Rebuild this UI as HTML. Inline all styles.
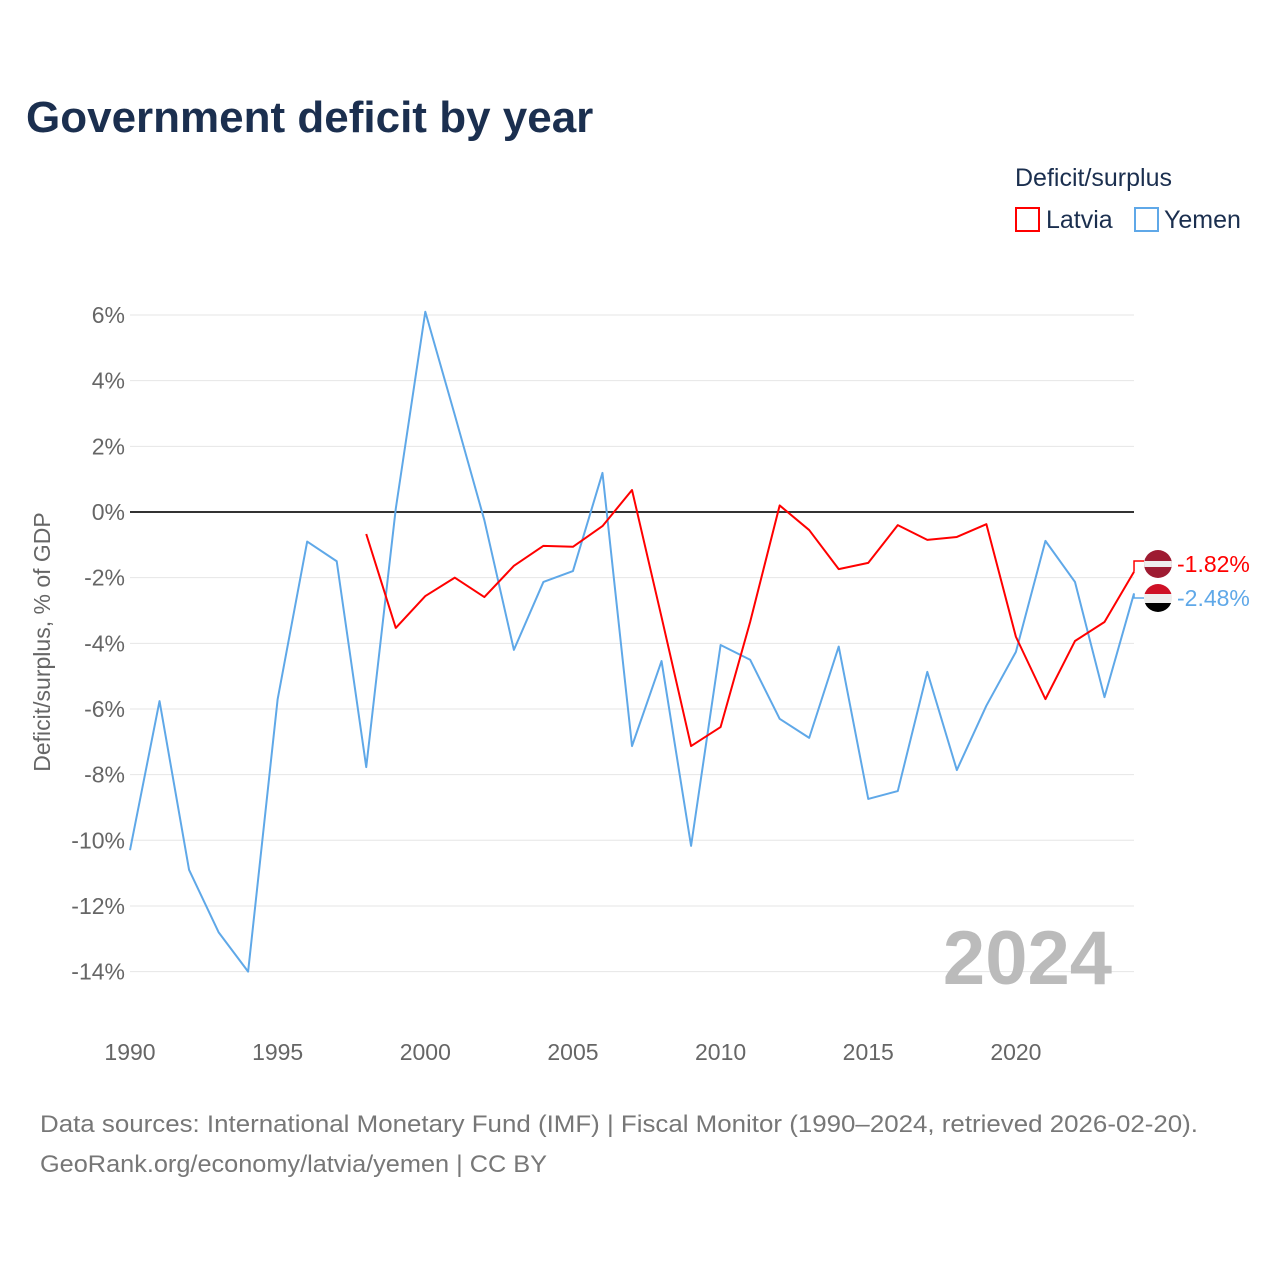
<!DOCTYPE html>
<html><head><meta charset="utf-8"><style>
body{margin:0;background:#fff;font-family:"Liberation Sans",sans-serif;}
svg text{font-family:"Liberation Sans",sans-serif;}
</style></head><body>
<svg width="1280" height="1280" viewBox="0 0 1280 1280" xmlns="http://www.w3.org/2000/svg">
<text x="26" y="132" font-size="44" font-weight="bold" fill="#1b2f4f">Government deficit by year</text>
<text x="1015" y="186" font-size="25" fill="#1b2f4f">Deficit/surplus</text>
<g><rect x="1016" y="208" width="23" height="23" fill="none" stroke="#ff0000" stroke-width="2"/><text x="1046" y="228" font-size="25" fill="#1b2f4f">Latvia</text></g>
<g><rect x="1135" y="208" width="23" height="23" fill="none" stroke="#5fa8e8" stroke-width="2"/><text x="1164" y="228" font-size="25" fill="#1b2f4f">Yemen</text></g>
<g id="grid"></g><g id="series"></g>
<text transform="translate(50,642) rotate(-90)" text-anchor="middle" font-size="23" fill="#666">Deficit/surplus, % of GDP</text>
<text x="1112" y="984" text-anchor="end" font-size="76" font-weight="bold" fill="#bbb">2024</text>
<text x="40" y="1132" font-size="24" fill="#777" textLength="1158" lengthAdjust="spacingAndGlyphs">Data sources: International Monetary Fund (IMF) | Fiscal Monitor (1990–2024, retrieved 2026-02-20).</text>
<text x="40" y="1172" font-size="24" fill="#777" textLength="507" lengthAdjust="spacingAndGlyphs">GeoRank.org/economy/latvia/yemen | CC BY</text>
</svg>
<script>
const years=[];for(let y=1990;y<=2024;y++)years.push(y);
const yemen=[-10.3,-5.76,-10.9,-12.8,-14.0,-5.7,-0.9,-1.5,-7.77,0.1,6.1,2.95,-0.25,-4.2,-2.13,-1.8,1.19,-7.13,-4.54,-10.17,-4.05,-4.5,-6.3,-6.88,-4.1,-8.74,-8.5,-4.87,-7.86,-5.9,-4.26,-0.88,-2.13,-5.64,-2.48];
const latvia=[null,null,null,null,null,null,null,null,-0.67,-3.53,-2.56,-2.0,-2.59,-1.64,-1.03,-1.06,-0.43,0.67,-3.2,-7.13,-6.55,-3.35,0.2,-0.55,-1.74,-1.55,-0.4,-0.85,-0.76,-0.37,-3.8,-5.7,-3.93,-3.35,-1.82];
const yTicks=[6,4,2,0,-2,-4,-6,-8,-10,-12,-14];
const xTicks=[1990,1995,2000,2005,2010,2015,2020];
const NS="http://www.w3.org/2000/svg";
const X=y=>130+(y-1990)*29.53, Y=v=>512-v*32.83;
const grid=document.getElementById('grid'), ser=document.getElementById('series');
function mk(t,a,p){const e=document.createElementNS(NS,t);for(const k in a)e.setAttribute(k,a[k]);p.appendChild(e);return e;}
yTicks.forEach(v=>{
 const l=mk('line',{x1:130,x2:1134,y1:Y(v),y2:Y(v),stroke:v===0?'#333':'#e6e6e6','stroke-width':v===0?2:1},grid);
 
 
 const t=mk('text',{x:125,y:Y(v)+8,'text-anchor':'end','font-size':23,fill:'#666'},grid);t.textContent=v+'%';
 
 
});
xTicks.forEach(v=>{
 const t=mk('text',{x:X(v),y:1060,'text-anchor':'middle','font-size':23,fill:'#666'},grid);t.textContent=v;
 
 
});
function line(data,color,name){
 let d='';data.forEach((v,i)=>{if(v===null)return;d+=(d?'L':'M')+X(years[i])+','+Y(v);});
 const p=mk('path',{d:d,fill:'none',stroke:color,'stroke-width':2,'stroke-linejoin':'round'},ser);
 
 
}
line(yemen,'#5fa8e8','yemen-line');line(latvia,'#ff0000','latvia-line');
const lv=latvia[latvia.length-1], ye=yemen[yemen.length-1];
const ly=564, yy=598;
mk('path',{d:`M${X(2024)},${Y(lv)}L${X(2024)},${ly-3}L1144,${ly-3}`,fill:'none',stroke:'#ff0000','stroke-width':1.5},ser);
mk('path',{d:`M${X(2024)},${Y(ye)}L${X(2024)},${yy}L1144,${yy}`,fill:'none',stroke:'#5fa8e8','stroke-width':1.5},ser);
const f1=mk('g',{},ser);
mk('clipPath',{id:'c1'},f1);mk('circle',{cx:1158,cy:564,r:14},f1.lastChild);
const g1=mk('g',{'clip-path':'url(#c1)'},f1);
mk('rect',{x:1144,y:550,width:28,height:28,fill:'#9e1b32'},g1);mk('rect',{x:1144,y:561,width:28,height:6,fill:'#eee'},g1);
const f2=mk('g',{},ser);
mk('clipPath',{id:'c2'},f2);mk('circle',{cx:1158,cy:598,r:14},f2.lastChild);
const g2=mk('g',{'clip-path':'url(#c2)'},f2);
mk('rect',{x:1144,y:584,width:28,height:10,fill:'#ce1126'},g2);mk('rect',{x:1144,y:594,width:28,height:9,fill:'#eee'},g2);mk('rect',{x:1144,y:603,width:28,height:10,fill:'#000'},g2);
const t1=mk('text',{x:1177,y:572,'font-size':23,fill:'#ff0000'},ser);t1.textContent=lv.toFixed(2)+'%';


const t2=mk('text',{x:1177,y:606,'font-size':23,fill:'#5fa8e8'},ser);t2.textContent=ye.toFixed(2)+'%';


</script>
</body></html>
